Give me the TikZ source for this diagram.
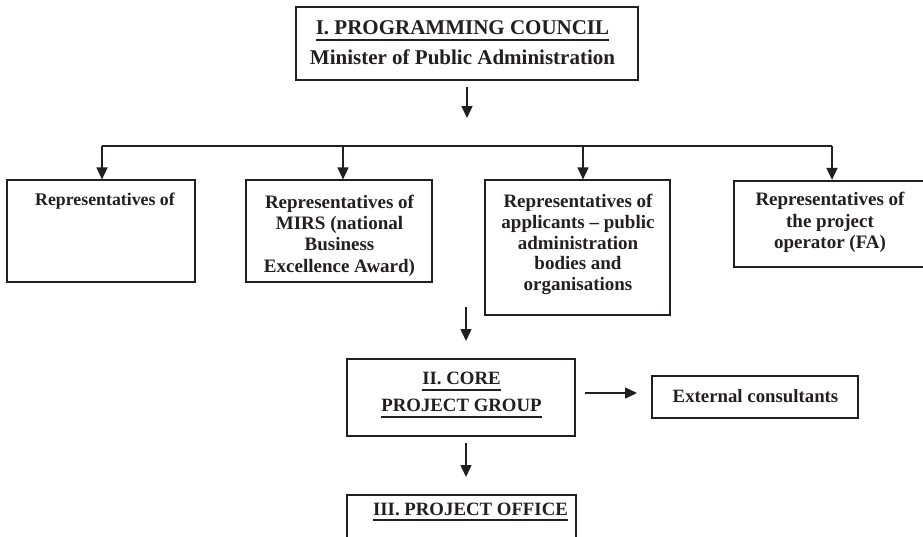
\documentclass[tikz,border=0pt]{standalone}
\usepackage{fontspec}
\setmainfont{Liberation Serif}
\usetikzlibrary{arrows.meta}
\definecolor{ink}{RGB}{35,31,32}
% heavy underline drawn as a rule below the baseline
\newcommand\heavyul[1]{\setbox0\hbox{#1}\rlap{\rule[-6pt]{\wd0}{1.9pt}}\box0}
\begin{document}
\begin{tikzpicture}[x=1pt,y=-1pt,
  box/.style={draw=ink, line width=1.2pt, inner sep=0pt},
  thickbox/.style={box, line width=2.3pt},
  label/.style={text=ink, inner sep=0pt, align=center,
    font=\bfseries\fontsize{19}{21.3}\selectfont},
  bigtext/.style={font=\bfseries\fontsize{18.8}{27}\selectfont},
  link/.style={draw=ink, line width=1.5pt},
  arr/.style={link, -{Triangle[width=11pt,length=12pt]}}]
\useasboundingbox[fill=white] (0,0) rectangle (923,536);

% Level I
\node[box, minimum width=342pt, minimum height=73pt] (council) at (467,43.5) {};
\node[label, font=\bfseries\fontsize{21}{29.5}\selectfont] (counciltext) at (462.5,42.5)
  {\heavyul{I. PROGRAMMING COUNCIL}\\Minister of Public Administration};

% Council members
\node[box, minimum width=188pt, minimum height=102pt] (repa) at (101,231) {};
\node[label, anchor=base, font=\bfseries\fontsize{17.8}{21.3}\selectfont] (repatext) at (105,205.5)
  {Representatives of};
\node[box, minimum width=186pt, minimum height=102pt] (repb) at (339,231) {};
\node[label] (repbtext) at (339.5,235.5)
  {Representatives of\\MIRS (national\\Business\\Excellence Award)};
\node[box, minimum width=185pt, minimum height=135pt] (repc) at (577.5,247.5) {};
\node[label, font=\bfseries\fontsize{19}{20.9}\selectfont] (repctext) at (578,244.5)
  {Representatives of\\applicants -- public\\administration\\bodies and\\organisations};
\node[thickbox, minimum width=192pt, minimum height=86pt] (repd) at (830,224) {};
\node[label] (repdtext) at (830,222.5)
  {Representatives of\\the project\\operator (FA)};

% Level II and III
\node[box, minimum width=228pt, minimum height=77pt] (core) at (461,397.5) {};
\node[label, bigtext] (coretext) at (461.5,395)
  {\heavyul{II. CORE}\\\heavyul{PROJECT GROUP}};
\node[box, minimum width=206pt, minimum height=42pt] (ext) at (755,397) {};
\node[label, bigtext] (exttext) at (755.5,396.5) {External consultants};
\node[thickbox, minimum width=229pt, minimum height=60pt] (office) at (461.5,525) {};
\node[label, bigtext, anchor=base] (officetext) at (470.5,515) {\heavyul{III. PROJECT OFFICE}};

% Connector end points
\coordinate (c1) at (467,87);
\coordinate (c2) at (467,118);
\coordinate (d1) at (102,146);
\coordinate (d2) at (343,146);
\coordinate (d3) at (583,146);
\coordinate (d4) at (832,146);
\coordinate (m1) at (466,307);
\coordinate (m2) at (466,341);
\coordinate (e1) at (585,393);
\coordinate (e2) at (637,393);
\coordinate (o1) at (466,443);
\coordinate (o2) at (466,477);

\draw[arr] (c1) -- (c2);
\draw[link] (d1) -- (d4);
\draw[arr] (d1) -- (d1 |- repa.north);
\draw[arr] (d2) -- (d2 |- repb.north);
\draw[arr] (d3) -- (d3 |- repc.north);
\draw[arr] (d4) -- (d4 |- repd.north);
\draw[arr] (m1) -- (m2);
\draw[arr] (e1) -- (e2);
\draw[arr] (o1) -- (o2);
\end{tikzpicture}
\end{document}
